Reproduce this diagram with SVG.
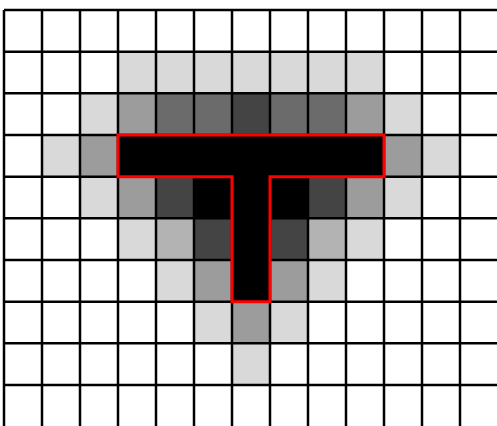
<svg xmlns="http://www.w3.org/2000/svg" width="497" height="426" viewBox="0 0 497 426">
<style>
.l{fill:#d9d9d9}.m{fill:#9c9c9c}.s{fill:#b3b3b3}.d{fill:#6b6b6b}.k{fill:#444444}.b{fill:#000000}
.g{stroke:#000;stroke-width:2.5;fill:none}
</style>
<rect x="0" y="0" width="497" height="426" fill="#fff"/>
<g id="cells">
<!-- row 1 -->
<rect class="l" x="118" y="51.667" width="266" height="41.667"/>
<!-- row 2 -->
<rect class="l" x="80" y="93.333" width="38" height="41.667"/>
<rect class="m" x="118" y="93.333" width="38" height="41.667"/>
<rect class="d" x="156" y="93.333" width="76" height="41.667"/>
<rect class="k" x="232" y="93.333" width="38" height="41.667"/>
<rect class="d" x="270" y="93.333" width="76" height="41.667"/>
<rect class="m" x="346" y="93.333" width="38" height="41.667"/>
<rect class="l" x="384" y="93.333" width="38" height="41.667"/>
<!-- row 3 -->
<rect class="l" x="42" y="135" width="38" height="41.667"/>
<rect class="m" x="80" y="135" width="38" height="41.667"/>
<rect class="b" x="118" y="135" width="266" height="41.667"/>
<rect class="m" x="384" y="135" width="38" height="41.667"/>
<rect class="l" x="422" y="135" width="38" height="41.667"/>
<!-- row 4 -->
<rect class="l" x="80" y="176.667" width="38" height="41.667"/>
<rect class="m" x="118" y="176.667" width="38" height="41.667"/>
<rect class="k" x="156" y="176.667" width="38" height="41.667"/>
<rect class="b" x="194" y="176.667" width="114" height="41.667"/>
<rect class="k" x="308" y="176.667" width="38" height="41.667"/>
<rect class="m" x="346" y="176.667" width="38" height="41.667"/>
<rect class="l" x="384" y="176.667" width="38" height="41.667"/>
<!-- row 5 -->
<rect class="l" x="118" y="218.333" width="38" height="41.667"/>
<rect class="s" x="156" y="218.333" width="38" height="41.667"/>
<rect class="k" x="194" y="218.333" width="38" height="41.667"/>
<rect class="b" x="232" y="218.333" width="38" height="41.667"/>
<rect class="k" x="270" y="218.333" width="38" height="41.667"/>
<rect class="s" x="308" y="218.333" width="38" height="41.667"/>
<rect class="l" x="346" y="218.333" width="38" height="41.667"/>
<!-- row 6 -->
<rect class="l" x="156" y="260" width="38" height="41.667"/>
<rect class="m" x="194" y="260" width="38" height="41.667"/>
<rect class="b" x="232" y="260" width="38" height="41.667"/>
<rect class="m" x="270" y="260" width="38" height="41.667"/>
<rect class="l" x="308" y="260" width="38" height="41.667"/>
<!-- row 7 -->
<rect class="l" x="194" y="301.667" width="38" height="41.667"/>
<rect class="m" x="232" y="301.667" width="38" height="41.667"/>
<rect class="l" x="270" y="301.667" width="38" height="41.667"/>
<!-- row 8 -->
<rect class="l" x="232" y="343.333" width="38" height="41.667"/>
</g>
<g id="grid" class="g">
<path d="M4 10V426M42 10V426M80 10V426M118 10V426M156 10V426M194 10V426M232 10V426M270 10V426M308 10V426M346 10V426M384 10V426M422 10V426M460 10V426"/>
<path d="M4 10H497M4 51.667H497M4 93.333H497M4 135H497M4 176.667H497M4 218.333H497M4 260H497M4 301.667H497M4 343.333H497M4 385H497"/>
</g>
<g id="T">
<polygon points="118,135 384,135 384,176.667 270,176.667 270,301.667 232,301.667 232,176.667 118,176.667" fill="none" stroke="#ff0000" stroke-width="3"/>
</g>
</svg>
